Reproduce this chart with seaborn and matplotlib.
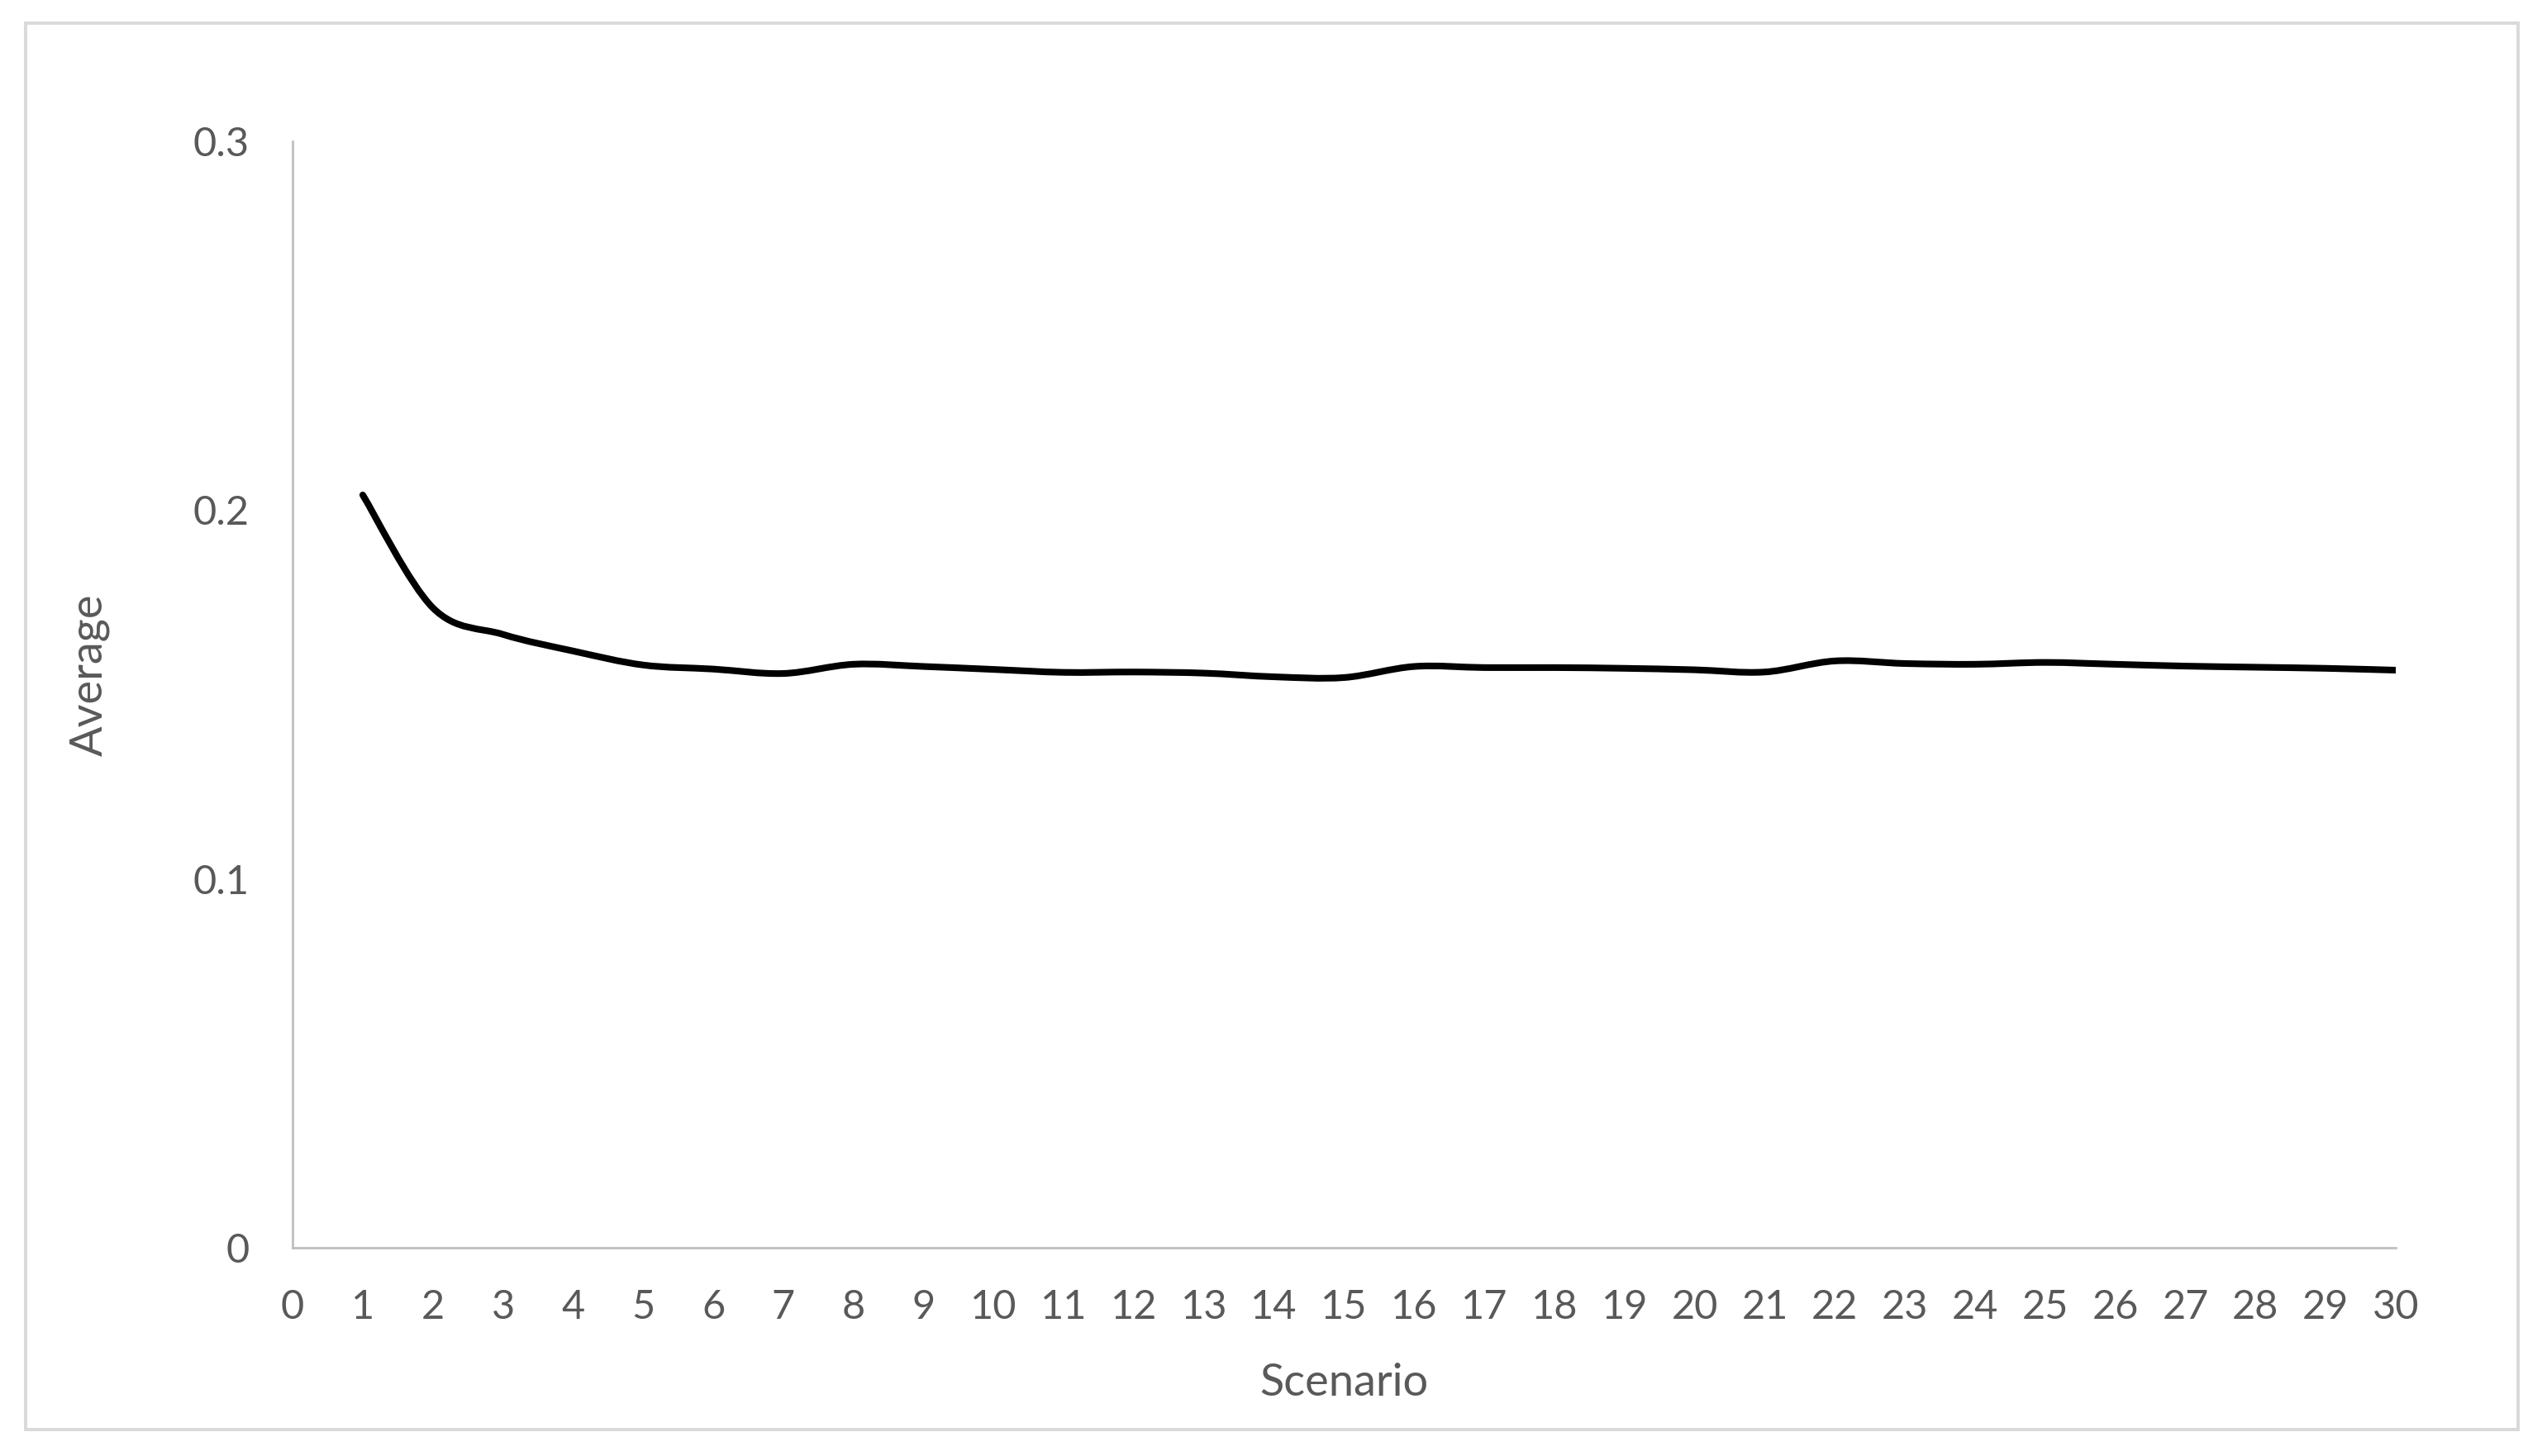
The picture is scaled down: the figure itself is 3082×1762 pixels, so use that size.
import numpy as np
import seaborn as sns
import matplotlib.pyplot as plt
from matplotlib.path import Path
from matplotlib.patches import PathPatch, Rectangle

# Data
scenario = list(range(1, 31))
average = [0.2041, 0.1735, 0.1663, 0.1618, 0.1580, 0.1569, 0.1557, 0.1582, 0.1576, 0.1568,
           0.1560, 0.1561, 0.1558, 0.1548, 0.1546, 0.1576, 0.1573, 0.1573, 0.1571, 0.1567,
           0.1561, 0.1591, 0.1584, 0.1582, 0.1587, 0.1582, 0.1577, 0.1574, 0.1571, 0.1566]
xticks = list(range(0, 31))
yticks = [0, 0.1, 0.2, 0.3]
ytick_labels = ["0", "0.1", "0.2", "0.3"]

sns.set_style("white")
plt.rcParams['font.family'] = ['Lato', 'DejaVu Sans']

grey = "#595959"
fig, ax = plt.subplots(figsize=(15.41, 8.81), dpi=200)
fig.subplots_adjust(left=0.1149, right=0.9406, bottom=0.1430, top=0.9030)

# smoothed line like Excel (bezier through the data points, drawn in data coords)
pts = np.column_stack([scenario, average])
ext = np.vstack([pts[0], pts, pts[-1]])
verts = [pts[0]]
codes = [Path.MOVETO]
for i in range(1, len(ext) - 2):
    c1 = ext[i] + (ext[i + 1] - ext[i - 1]) / 6
    c2 = ext[i + 1] - (ext[i + 2] - ext[i]) / 6
    verts += [c1, c2, ext[i + 1]]
    codes += [Path.CURVE4] * 3
ax.add_patch(PathPatch(Path(verts, codes), facecolor="none", edgecolor="black",
                       lw=2.9, capstyle="round", joinstyle="round"))

ax.set_xlim(0, 30)
ax.set_ylim(0, 0.3)
ax.set_xticks(xticks)
ax.set_yticks(yticks)
ax.set_yticklabels(ytick_labels)
ax.tick_params(axis="both", length=0, labelsize=17.5, labelcolor=grey)
ax.tick_params(axis="x", pad=18)
ax.tick_params(axis="y", pad=19)

sns.despine(ax=ax)
for s in ["left", "bottom"]:
    ax.spines[s].set_color("#bfbfbf")
    ax.spines[s].set_linewidth(1.0)

ax.set_xlabel("Scenario", fontsize=19.5, color=grey, va="center")
ax.set_ylabel("Average", fontsize=19.5, color=grey, va="center")
ax.xaxis.set_label_coords(0.5, -0.1217)
ax.yaxis.set_label_coords(-0.0967, 0.518)

# chart border
fig.patches.append(Rectangle((0.0101, 0.0182), 0.9786, 0.9659, transform=fig.transFigure,
                             fill=False, edgecolor="#d9d9d9", lw=1.4))

fig.savefig("out.png", dpi=200)
